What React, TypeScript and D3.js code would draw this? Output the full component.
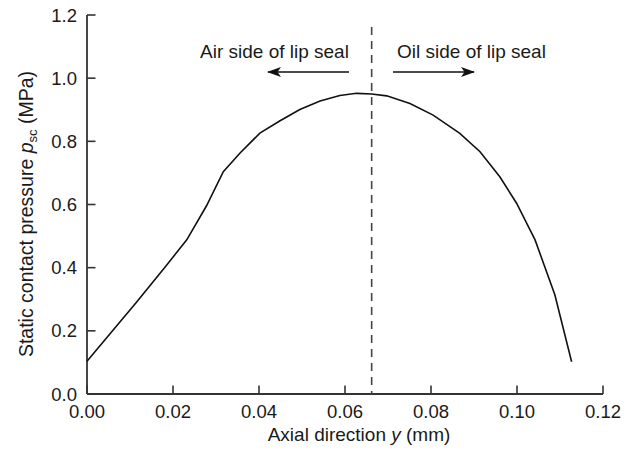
import React from "react";
import * as d3 from "d3";

const axialY = [0, 0.0116, 0.0185, 0.0232, 0.0278, 0.0317, 0.0356, 0.0402, 0.0449, 0.0495, 0.0542, 0.0588, 0.0627, 0.0662, 0.0697, 0.0751, 0.0805, 0.0867, 0.0914, 0.096, 0.0999, 0.1042, 0.1088, 0.1127];
const pressure = [0.104, 0.292, 0.408, 0.488, 0.596, 0.704, 0.763, 0.826, 0.865, 0.901, 0.928, 0.945, 0.952, 0.95, 0.944, 0.92, 0.883, 0.825, 0.767, 0.688, 0.604, 0.488, 0.314, 0.102];
const xTicks = [0, 0.02, 0.04, 0.06, 0.08, 0.1, 0.12];
const yTicks = [0, 0.2, 0.4, 0.6, 0.8, 1.0, 1.2];
const dividerY = 0.0662;
const airLabel = "Air side of lip seal";
const oilLabel = "Oil side of lip seal";

const W = 633, H = 452;
const M = { left: 87, right: 30, top: 15, bottom: 58 };
const FONT = "'Liberation Sans', Arial, Helvetica, sans-serif";
const AXIS = "#333";
const TXT = "#1a1a1a";

export default function App() {
  const x = d3.scaleLinear().domain([0, 0.12]).range([M.left, W - M.right]);
  const y = d3.scaleLinear().domain([0, 1.2]).range([H - M.bottom, M.top]);
  const pts: [number, number][] = axialY.map((v, i) => [v, pressure[i]]);
  const line = d3.line<[number, number]>().x(d => x(d[0])).y(d => y(d[1]));
  const x0 = x(0), y0 = y(0);
  const tk = 8.5;
  const arrowY = 72;
  const dx = x(dividerY);

  return (
    <svg width={W} height={H} style={{ position: "absolute", left: 0, top: 0, background: "#fff" }} fontFamily={FONT}>
      <defs>
        <marker id="ah" viewBox="0 0 14 10" refX="13" refY="5" markerWidth="14" markerHeight="10" markerUnits="userSpaceOnUse" orient="auto">
          <path d="M0,0 L14,5 L0,10 L3.5,5 Z" fill="#111" />
        </marker>
      </defs>
      <rect x={0} y={0} width={W} height={H} fill="#fff" />
      <line x1={x0} y1={y0} x2={x(0.12)} y2={y0} stroke={AXIS} strokeWidth={1.8} />
      <line x1={x0} y1={y0} x2={x0} y2={y(1.2)} stroke={AXIS} strokeWidth={1.8} />
      {xTicks.map(t => (
        <g key={"x" + t}>
          <line x1={x(t)} x2={x(t)} y1={y0} y2={y0 - tk} stroke={AXIS} strokeWidth={1.6} />
          <text x={x(t)} y={y0 + 24} textAnchor="middle" fontSize={18.5} fill={TXT}>{t.toFixed(2)}</text>
        </g>
      ))}
      {yTicks.map(t => (
        <g key={"y" + t}>
          <line x1={x0} x2={x0 + tk} y1={y(t)} y2={y(t)} stroke={AXIS} strokeWidth={1.6} />
          <text x={x0 - 10} y={y(t)} dy="0.36em" textAnchor="end" fontSize={18.5} fill={TXT}>{t.toFixed(1)}</text>
        </g>
      ))}
      <line x1={dx} x2={dx} y1={27} y2={y0} stroke="#444" strokeWidth={1.6} strokeDasharray="8,6" />
      <path d={line(pts) || ""} fill="none" stroke="#111" strokeWidth={1.6} />
      <text x={200} y={58} fontSize={19} fill={TXT}>{airLabel}</text>
      <text x={397} y={58} fontSize={19} fill={TXT}>{oilLabel}</text>
      <line x1={349} y1={arrowY} x2={268} y2={arrowY} stroke="#111" strokeWidth={1.5} markerEnd="url(#ah)" />
      <line x1={393} y1={arrowY} x2={474} y2={arrowY} stroke="#111" strokeWidth={1.5} markerEnd="url(#ah)" />
      <text x={359} y={441} textAnchor="middle" fontSize={19} fill={TXT}>
        Axial direction <tspan fontStyle="italic">y</tspan> (mm)
      </text>
      <text transform={`translate(33,214) rotate(-90)`} textAnchor="middle" fontSize={19.5} fill={TXT}>
        Static contact pressure <tspan fontStyle="italic">p</tspan><tspan fontSize={13} dy={4}>sc</tspan><tspan dy={-4}> (MPa)</tspan>
      </text>
    </svg>
  );
}
